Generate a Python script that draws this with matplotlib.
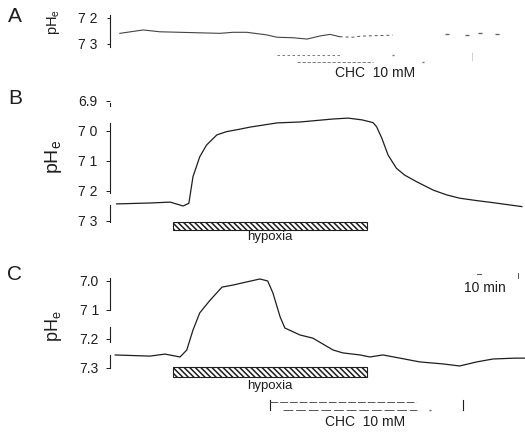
import matplotlib
matplotlib.use("Agg")
import matplotlib.pyplot as plt
from matplotlib.patches import Rectangle

plt.rcParams['font.family'] = ['Liberation Sans', 'DejaVu Sans']
plt.rcParams['mathtext.fontset'] = 'custom'
plt.rcParams['mathtext.rm'] = 'Liberation Sans'
plt.rcParams['hatch.linewidth'] = 1.1

INK = '#1e1e1e'
W, H = 525, 433

# --- data (time in min, pHe) ---
a_time = [1.9, 6.4, 9.6, 13.5, 17.3, 21.2, 23.7, 26.4, 30.2, 32.2, 35.3, 38.0, 40.5, 42.4, 44.3]
a_ph = [7.259, 7.246, 7.253, 7.255, 7.257, 7.259, 7.255, 7.255, 7.265, 7.274, 7.276, 7.281, 7.269, 7.263, 7.272]
a_tail_time = [44.3, 46.8, 48.2, 51.0, 54.5]
a_tail_ph = [7.272, 7.274, 7.270, 7.268, 7.266]
a_dots_time = [64.9, 68.8, 71.3, 74.6]
a_dots_ph = [7.262, 7.265, 7.258, 7.260]

b_time = [1.3, 7.7, 11.6, 14.1, 15.2, 16.0, 17.3, 18.6, 20.6, 22.5, 25.0, 27.0, 32.2, 36.6,
          43.0, 45.9, 48.6, 50.7, 51.4, 52.4, 53.6, 55.2, 56.8, 59.1, 62.3, 64.9, 67.4,
          70.7, 73.9, 79.4]
b_ph = [7.243, 7.240, 7.237, 7.250, 7.241, 7.152, 7.086, 7.047, 7.013, 7.002, 6.994, 6.987,
        6.973, 6.970, 6.960, 6.957, 6.963, 6.972, 6.986, 7.024, 7.080, 7.124, 7.147, 7.169,
        7.197, 7.213, 7.224, 7.232, 7.239, 7.252]

c_time = [1.0, 7.7, 10.6, 13.5, 14.8, 16.0, 17.3, 19.3, 21.6, 23.7, 26.4, 28.9, 30.4, 31.4,
          32.8, 33.7, 36.6, 39.1, 43.0, 44.9, 48.2, 50.1, 52.6, 55.9, 59.7, 64.2, 67.4,
          70.7, 73.8, 78.0, 80.0]
c_ph = [7.255, 7.259, 7.252, 7.262, 7.238, 7.169, 7.110, 7.066, 7.021, 7.014, 7.003, 6.993,
        7.000, 7.041, 7.124, 7.162, 7.186, 7.197, 7.238, 7.248, 7.255, 7.262, 7.255, 7.266,
        7.279, 7.286, 7.293, 7.279, 7.269, 7.266, 7.266]

hypoxia = (12.2, 49.5)

a_ticks = [7.2, 7.3]
a_labels = ['7 2', '7 3']
b_ticks = [6.9, 7.0, 7.1, 7.2, 7.3]
b_labels = ['6.9', '7 0', '7 1', '7 2', '7 3']
c_ticks = [7.0, 7.1, 7.2, 7.3]
c_labels = ['7.0', '7 1', '7.2', '7.3']

fig = plt.figure(figsize=(5.25, 4.33), dpi=100)


def make_panel(top, bottom, ph_ref, y_ref, px_per_ph):
    ax = fig.add_axes([110 / W, 1 - bottom / H, 415 / W, (bottom - top) / H])
    ax.set_xlim(0, 80)
    ax.set_ylim(ph_ref + (bottom - y_ref) / px_per_ph, ph_ref + (top - y_ref) / px_per_ph)
    ax.patch.set_visible(False)
    for s in ax.spines.values():
        s.set_visible(False)
    ax.set_xticks([])
    return ax


def axis_line(ax, pieces):
    for lo, hi in pieces:
        ax.plot([0, 0], [lo, hi], color=INK, lw=0.8, clip_on=False)


def hyp_bar(ax, top, height, label_ph):
    ax.add_patch(Rectangle((hypoxia[0], top), hypoxia[1] - hypoxia[0], height,
                           facecolor='white', edgecolor=INK, hatch='\\' * 6, lw=0.8,
                           clip_on=False))
    ax.text(sum(hypoxia) / 2, label_ph, 'hypoxia', ha='center', va='center',
            fontsize=9.5, color=INK)


# ---------------- A ----------------
axA = make_panel(5, 90, 7.2, 18, 260)
axA.plot(a_time, a_ph, color='#444444', lw=0.8)
axA.plot(a_tail_time, a_tail_ph, color='#555555', lw=0.7, dashes=(3, 3))
axA.plot(a_dots_time, a_dots_ph, ls='none', marker='_', ms=3, color='#666666')
axis_line(axA, [(7.188, 7.312)])
axA.set_yticks(a_ticks, a_labels)
axA.tick_params(axis='y', length=2, width=0.7, pad=7, labelsize=10, colors=INK)
# CHC marks
axA.plot([32.2, 44.3], [7.342, 7.342], color='#666666', lw=0.6, dashes=(3, 3))
axA.plot([36.0, 50.7], [7.369, 7.369], color='#666666', lw=0.6, dashes=(4, 2))
axA.plot([54.5, 60.3], [7.342, 7.369], ls='none', marker='_', ms=2, color='#777777')
axA.plot([69.8, 69.8], [7.335, 7.362], color='#777777', lw=0.6, dashes=(1, 1.5))
axA.text(51.1, 7.412, 'CHC  10 mM', ha='center', va='center', fontsize=10, color=INK)

# ---------------- B ----------------
axB = make_panel(90, 250, 7.0, 131, 300)
axB.plot(b_time, b_ph, color=INK, lw=0.9)
axis_line(axB, [(6.905, 6.915), (6.973, 7.207), (7.247, 7.303)])
axB.set_yticks(b_ticks, b_labels)
axB.tick_params(axis='y', length=3, width=0.7, pad=6, labelsize=10, colors=INK)
hyp_bar(axB, 7.303, 0.027, 7.353)

# ---------------- C ----------------
axC = make_panel(250, 433, 7.0, 281, 290)
axC.plot(c_time, c_ph, color=INK, lw=0.9)
axis_line(axC, [(6.99, 7.10), (7.159, 7.21), (7.255, 7.30)])
axC.set_yticks(c_ticks, c_labels)
axC.tick_params(axis='y', length=3, width=0.7, pad=5, labelsize=10, colors=INK)
hyp_bar(axC, 7.297, 0.033, 7.362)
# CHC marks
axC.plot([30.8, 30.8], [7.412, 7.445], color=INK, lw=0.8)
axC.plot([30.8, 59.0], [7.417, 7.417], color='#555555', lw=0.7, dashes=(8, 2))
axC.plot([33.3, 59.2], [7.445, 7.445], color='#555555', lw=0.7, dashes=(10, 3))
axC.plot([61.7], [7.445], ls='none', marker='_', ms=2, color='#666666')
axC.plot([68.0, 68.0], [7.410, 7.445], color=INK, lw=0.8)
axC.text(49.2, 7.486, 'CHC  10 mM', ha='center', va='center', fontsize=10, color=INK)
# time scale
axC.text(72.3, 7.024, '10 min', ha='center', va='center', fontsize=10, color=INK)
axC.plot([70.7, 71.5], [6.976, 6.976], color='#555555', lw=0.7, clip_on=False)
axC.plot([78.6, 78.6], [6.972, 6.989], color='#555555', lw=0.7, clip_on=False)

# panel letters and axis titles
for letter, y in [('A', 16), ('B', 98), ('C', 274)]:
    fig.text(15 / W, 1 - y / H, letter, ha='center', va='center', fontsize=15, color=INK)
for y, fs in [(22, 10.5), (157, 14), (326, 13)]:
    fig.text(53 / W, 1 - y / H, r'pH$_\mathrm{e}$', rotation=90, ha='center', va='center',
             fontsize=fs, color=INK)

fig.savefig('out.png', dpi=100)
